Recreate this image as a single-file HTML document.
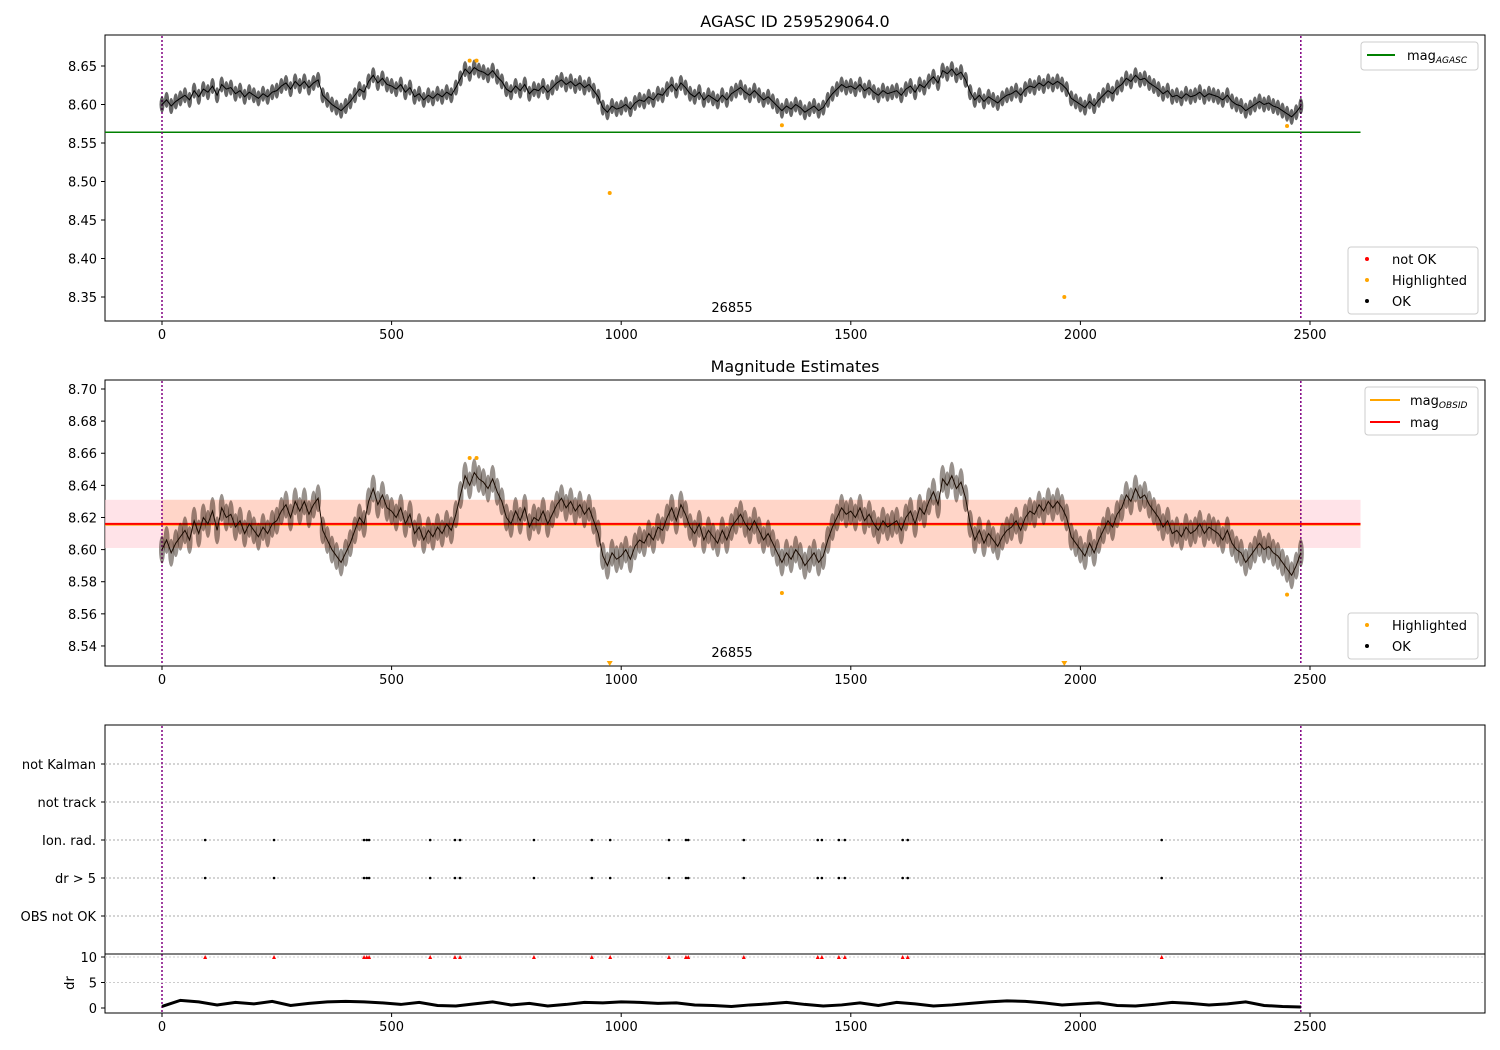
<!DOCTYPE html>
<html><head><meta charset="utf-8"><style>
body{margin:0;background:#fff;}
svg{display:block;font-family:"DejaVu Sans","Liberation Sans",sans-serif;}
</style></head><body>
<svg id="chart" width="1500" height="1050" xmlns="http://www.w3.org/2000/svg"></svg>
<script>
const frames10 = [];
const magValues = [8.600,8.606,8.598,8.604,8.608,8.612,8.606,8.618,8.610,8.620,8.616,8.624,8.612,8.626,8.620,8.622,8.614,8.618,8.610,8.616,8.612,8.608,8.614,8.610,8.616,8.618,8.624,8.628,8.620,8.630,8.624,8.630,8.622,8.628,8.632,8.612,8.606,8.600,8.596,8.592,8.598,8.604,8.612,8.620,8.616,8.630,8.638,8.628,8.634,8.626,8.624,8.620,8.626,8.616,8.622,8.610,8.614,8.606,8.612,8.608,8.614,8.610,8.616,8.612,8.622,8.634,8.646,8.640,8.648,8.644,8.642,8.638,8.644,8.636,8.630,8.620,8.616,8.624,8.618,8.626,8.614,8.620,8.618,8.624,8.616,8.622,8.628,8.632,8.626,8.630,8.624,8.628,8.622,8.626,8.618,8.610,8.596,8.590,8.598,8.594,8.596,8.600,8.594,8.602,8.606,8.604,8.610,8.606,8.614,8.612,8.620,8.626,8.618,8.628,8.622,8.614,8.610,8.616,8.606,8.612,8.608,8.604,8.612,8.606,8.614,8.618,8.622,8.616,8.612,8.618,8.612,8.606,8.610,8.604,8.598,8.592,8.598,8.594,8.600,8.596,8.590,8.594,8.598,8.592,8.596,8.606,8.614,8.620,8.626,8.622,8.624,8.620,8.626,8.618,8.622,8.616,8.612,8.618,8.614,8.616,8.618,8.612,8.620,8.624,8.616,8.626,8.622,8.630,8.636,8.628,8.644,8.640,8.646,8.638,8.642,8.632,8.616,8.606,8.612,8.604,8.610,8.606,8.602,8.608,8.612,8.614,8.618,8.612,8.620,8.624,8.622,8.628,8.624,8.630,8.626,8.630,8.626,8.620,8.608,8.604,8.600,8.596,8.604,8.598,8.606,8.612,8.618,8.614,8.622,8.626,8.634,8.630,8.638,8.632,8.634,8.628,8.624,8.620,8.614,8.618,8.610,8.612,8.608,8.614,8.610,8.612,8.616,8.610,8.614,8.612,8.610,8.606,8.612,8.604,8.600,8.598,8.592,8.596,8.600,8.604,8.600,8.602,8.598,8.596,8.592,8.588,8.584,8.590,8.598];
for (let i = 0; i < magValues.length; i++) frames10.push(i * 10);
const hlFrames = [670, 685, 975, 1350, 1965, 2450];
const hlValues = [8.657, 8.657, 8.485, 8.573, 8.350, 8.572];
const eventFrames = [94,244,440,446,451,584,638,649,810,936,976,1104,1141,1146,1267,1428,1437,1474,1487,1613,1624,2177];
const eventRows = ["Ion. rad.","dr > 5"];
const rowLabels = ["not Kalman","not track","Ion. rad.","dr > 5","OBS not OK"];
const drFrames = [];
const drValues = [0.3,1.5,1.2,0.6,1.1,0.8,1.3,0.5,0.9,1.2,1.3,1.2,1.0,0.7,1.1,0.5,0.4,0.8,1.2,0.6,0.9,0.4,0.7,1.1,1.0,1.2,1.1,0.9,1.0,0.6,0.5,0.3,0.6,0.8,1.1,0.7,0.4,0.6,1.0,0.5,1.1,0.8,0.4,0.6,0.9,1.2,1.4,1.3,1.0,0.6,0.8,1.0,0.5,0.4,0.7,1.1,0.9,0.6,0.8,1.2,0.5,0.3,0.2];
for (let i = 0; i < drValues.length; i++) drFrames.push(i * 40);
const xTicks = [0,500,1000,1500,2000,2500];
const p1Ticks = [8.35,8.40,8.45,8.50,8.55,8.60,8.65];
const p2Ticks = [8.54,8.56,8.58,8.60,8.62,8.64,8.66,8.68,8.70];
const drTicks = [0,5,10];
const agascMag = 8.564, obsMag = 8.616, obsLo = 8.601, obsHi = 8.631;

const svg = document.getElementById('chart');
const NS = 'http://www.w3.org/2000/svg';
function el(tag, attrs, parent) { const e = document.createElementNS(NS, tag); for (const k in attrs) e.setAttribute(k, attrs[k]); (parent || svg).appendChild(e); return e; }
function txt(x, y, s, size, anchor, parent) { const t = el('text', {x:x, y:y, 'font-size':size, 'text-anchor':anchor||'middle', fill:'#000'}, parent); t.textContent = s; return t; }
const X = f => 162 + f * 0.4592;
const Y1 = v => 66 + (8.65 - v) * 770;
const Y2 = v => 389 + (8.70 - v) * 1606;
const YD = v => 1008 - v * 5.1;

function axisBox(y0, y1, name) {
  const g = el('g', {});
  
  
  el('rect', {x:105, y:y0, width:1380, height:y1 - y0, fill:'none', stroke:'#000', 'stroke-width':1}, g);
  return g;
}
function xAxis(yb, g, labels) {
  xTicks.forEach(t => {
    el('line', {x1:X(t), x2:X(t), y1:yb, y2:yb + 4, stroke:'#000'}, g);
    if (labels) txt(X(t), yb + 18, String(t), 13, 'middle', g);
  });
}
function vlines(y0, y1, g) {
  [0, 2480].forEach(f => el('line', {x1:X(f), x2:X(f), y1:y0, y2:y1, stroke:'purple', 'stroke-width':1.5, 'stroke-dasharray':'2,2'}, g));
}
function legendBox(x, y, w, h, g) { el('rect', {x:x, y:y, width:w, height:h, fill:'#fff', 'fill-opacity':0.85, stroke:'#ccc', rx:3}, g); }

// Panel 1
txt(795, 27, 'AGASC ID 259529064.0', 16, 'middle');
const g1 = axisBox(35, 321, 'panel-agasc');
xAxis(321, g1, true);
p1Ticks.forEach(t => { el('line', {x1:101, x2:105, y1:Y1(t), y2:Y1(t), stroke:'#000'}, g1); txt(97, Y1(t) + 5, t.toFixed(2), 13, 'end', g1); });
el('line', {x1:105, x2:X(2610), y1:Y1(agascMag), y2:Y1(agascMag), stroke:'green', 'stroke-width':1.5}, g1);
vlines(36, 320, g1);
let pts1 = magValues.map((v, i) => X(frames10[i]) + ',' + Y1(v)).join(' ');
el('polyline', {points:pts1, fill:'none', stroke:'#000', 'stroke-width':1}, g1);
magValues.forEach((v, i) => {
  const c = el('ellipse', {cx:X(frames10[i]), cy:Y1(v), rx:2.5, ry:8, fill:'#000', 'fill-opacity':0.6}, g1);
  
  
});
hlFrames.forEach((f, i) => {
  const c = el('circle', {cx:X(f), cy:Y1(hlValues[i]), r:2, fill:'orange'}, g1);
  
  
});
txt(732, 312, '26855', 13, 'middle', g1);
legendBox(1361, 42, 117, 28, g1);
el('line', {x1:1367, x2:1395, y1:55, y2:55, stroke:'green', 'stroke-width':2}, g1);
const lt1 = txt(1407, 60, 'mag', 13, 'start', g1); const s1 = el('tspan', {'font-size':9, dy:3, 'font-style':'italic'}, lt1); s1.textContent = 'AGASC';
legendBox(1348, 247, 130, 67, g1);
[['not OK','red',260],['Highlighted','orange',281],['OK','#000',302]].forEach(a => {
  el('circle', {cx:1367, cy:a[2] - 1, r:2, fill:a[1]}, g1);
  txt(1392, a[2] + 4, a[0], 13, 'start', g1);
});

// Panel 2
txt(795, 372, 'Magnitude Estimates', 16, 'middle');
const g2 = axisBox(380, 666, 'panel-magnitude-estimates');
xAxis(666, g2, true);
p2Ticks.forEach(t => { el('line', {x1:101, x2:105, y1:Y2(t), y2:Y2(t), stroke:'#000'}, g2); txt(97, Y2(t) + 5, t.toFixed(2), 13, 'end', g2); });
el('rect', {x:105, y:Y2(obsHi), width:X(2610) - 105, height:Y2(obsLo) - Y2(obsHi), fill:'#ffd0d8', 'fill-opacity':0.6}, g2);
el('rect', {x:X(0), y:Y2(obsHi), width:X(2480) - X(0), height:Y2(obsLo) - Y2(obsHi), fill:'#ffc8a8', 'fill-opacity':0.5}, g2);
el('line', {x1:105, x2:X(2610), y1:Y2(obsMag) + 1, y2:Y2(obsMag) + 1, stroke:'orange', 'stroke-width':1.5}, g2);
el('line', {x1:105, x2:X(2610), y1:Y2(obsMag), y2:Y2(obsMag), stroke:'red', 'stroke-width':2}, g2);
vlines(381, 665, g2);
let pts2 = magValues.map((v, i) => X(frames10[i]) + ',' + Y2(v)).join(' ');
el('polyline', {points:pts2, fill:'none', stroke:'#1a0a00', 'stroke-width':1}, g2);
magValues.forEach((v, i) => {
  const c = el('ellipse', {cx:X(frames10[i]), cy:Y2(v), rx:3, ry:14, fill:'#1a0a00', 'fill-opacity':0.45}, g2);
  
  
});
hlFrames.forEach((f, i) => {
  const v = hlValues[i];
  let c;
  if (v < 8.527) c = el('polygon', {points:`${X(f)-3},${661} ${X(f)+3},${661} ${X(f)},${666}`, fill:'orange'}, g2);
  else c = el('circle', {cx:X(f), cy:Y2(v), r:2, fill:'orange'}, g2);
  
  
});
txt(732, 657, '26855', 13, 'middle', g2);
legendBox(1365, 387, 113, 48, g2);
el('line', {x1:1370, x2:1400, y1:400, y2:400, stroke:'orange', 'stroke-width':2}, g2);
const lt2 = txt(1410, 405, 'mag', 13, 'start', g2); const s2 = el('tspan', {'font-size':9, dy:3, 'font-style':'italic'}, lt2); s2.textContent = 'OBSID';
el('line', {x1:1370, x2:1400, y1:422, y2:422, stroke:'red', 'stroke-width':2}, g2);
txt(1410, 427, 'mag', 13, 'start', g2);
legendBox(1348, 613, 130, 46, g2);
[['Highlighted','orange',626],['OK','#000',647]].forEach(a => {
  el('circle', {cx:1367, cy:a[2] - 1, r:2, fill:a[1]}, g2);
  txt(1392, a[2] + 4, a[0], 13, 'start', g2);
});

// Panel 3 flags
const g3 = axisBox(725, 954, 'panel-flags');
rowLabels.forEach((r, i) => {
  const y = 764 + i * 38;
  el('line', {x1:105, x2:1485, y1:y, y2:y, stroke:'#aaa', 'stroke-dasharray':'2,2'}, g3);
  el('line', {x1:101, x2:105, y1:y, y2:y, stroke:'#000'}, g3);
  txt(96, y + 5, r, 13, 'end', g3);
});
vlines(726, 1012, g3);
eventRows.forEach(r => {
  const y = 764 + rowLabels.indexOf(r) * 38;
  eventFrames.forEach(f => {
    const c = el('circle', {cx:X(f), cy:y, r:1.3, fill:'#000'}, g3);
    
    
  });
});
// dr subplot
const g4 = axisBox(954, 1013, 'panel-dr');
xAxis(1013, g4, true);
drTicks.forEach(t => { el('line', {x1:101, x2:105, y1:YD(t), y2:YD(t), stroke:'#000'}, g4); txt(97, YD(t) + 5, String(t), 13, 'end', g4); });
[5,10].forEach(t => el('line', {x1:105, x2:1485, y1:YD(t), y2:YD(t), stroke:'#ccc', 'stroke-dasharray':'2,2'}, g4));
const ylab = txt(70, 983, 'dr', 13, 'middle', g4); ylab.setAttribute('transform', 'rotate(-90 70 983)'); ylab.setAttribute('dy', 4);
el('polyline', {points:drValues.map((v, i) => X(drFrames[i]) + ',' + YD(v)).join(' '), fill:'none', stroke:'#000', 'stroke-width':3}, g4);
eventFrames.forEach(f => {
  const c = el('polygon', {points:`${X(f)-2},${YD(10)+2} ${X(f)+2},${YD(10)+2} ${X(f)},${YD(10)-2}`, fill:'red'}, g4);
  
  
});
</script>
</body></html>
